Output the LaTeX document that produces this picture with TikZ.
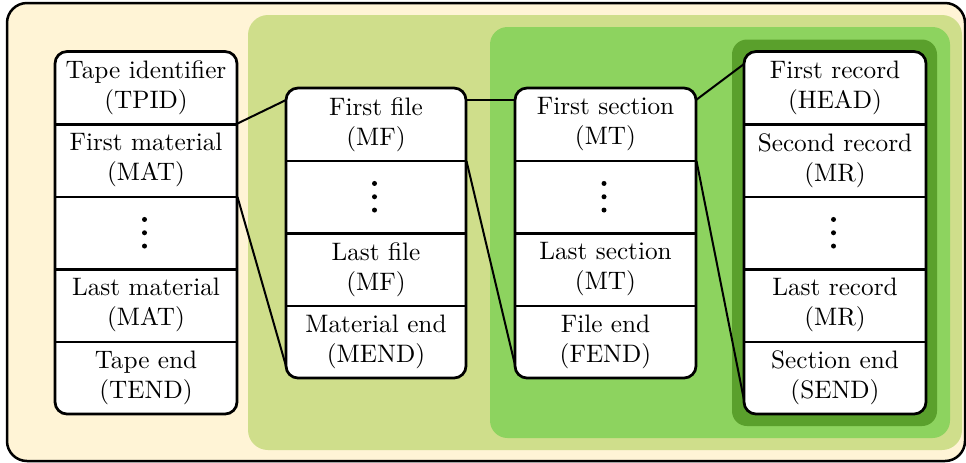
\documentclass[tikz,border=0pt]{standalone}
\usepackage{graphicx}
\usetikzlibrary{calc}
\definecolor{cream}{HTML}{FFF4D6}
\definecolor{gA}{HTML}{CFDE8B}
\definecolor{gB}{HTML}{8DD35F}
\definecolor{gC}{HTML}{5AA02C}
\begin{document}
\begin{tikzpicture}[x=0.4pt,y=-0.4pt,
  frame/.style={draw=black, line width=1pt, rounded corners=8pt},
  colbox/.style={draw=black, fill=white, line width=1.1pt, rounded corners=4.8pt},
  cell/.style={minimum height=29pt, inner sep=0pt, align=center, font=\fontsize{10.1}{12}\selectfont},
  sepline/.style={line width=1.1pt},
  link/.style={line width=0.8pt},
  dotfill/.style={fill=black}]
\useasboundingbox (0,0) rectangle (966,462);
% backgrounds
\draw[frame, fill=cream] (7,3) rectangle (965,461);
\fill[gA, rounded corners=8pt] (248,15) rectangle (962,450);
\fill[gB, rounded corners=7pt] (490,27) rectangle (950,438);
\fill[gC, rounded corners=6pt] (732,39.5) rectangle (937,426);
% column outlines
\draw[colbox] (55,51.5) rectangle (237,414);
\draw[colbox] (286,88) rectangle (466,378);
\draw[colbox] (515,88) rectangle (696,378);
\draw[colbox] (744,51.5) rectangle (926,414);
% column 1
\node[cell, minimum width=72.8pt] (tpid) at (146,87.75) {Tape identifier\\(TPID)};
\node[cell, minimum width=72.8pt] (mat1) at (146,160.25) {First material\\(MAT)};
\node[cell, minimum width=72.8pt] (dots1) at (146,232.75) {};
\node[cell, minimum width=72.8pt] (mat2) at (146,305.25) {Last material\\(MAT)};
\node[cell, minimum width=72.8pt] (tend) at (146,377.75) {Tape end\\(TEND)};
\foreach \n in {tpid,mat1,dots1,mat2} \draw[sepline] (\n.south west) -- (\n.south east);
% column 2
\node[cell, minimum width=72pt] (mf1) at (376,124.25) {First file\\(MF)};
\node[cell, minimum width=72pt] (dots2) at (376,196.75) {};
\node[cell, minimum width=72pt] (mf2) at (376,269.25) {Last file\\(MF)};
\node[cell, minimum width=72pt] (mend) at (376,341.75) {Material end\\(MEND)};
\foreach \n in {mf1,dots2,mf2} \draw[sepline] (\n.south west) -- (\n.south east);
% column 3
\node[cell, minimum width=72.4pt] (mt1) at (605.5,124.25) {First section\\(MT)};
\node[cell, minimum width=72.4pt] (dots3) at (605.5,196.75) {};
\node[cell, minimum width=72.4pt] (mt2) at (605.5,269.25) {Last section\\(MT)};
\node[cell, minimum width=72.4pt] (fend) at (605.5,341.75) {File end\\(FEND)};
\foreach \n in {mt1,dots3,mt2} \draw[sepline] (\n.south west) -- (\n.south east);
% column 4
\node[cell, minimum width=72.8pt] (head) at (835,87.75) {First record\\(HEAD)};
\node[cell, minimum width=72.8pt] (mr1) at (835,160.25) {Second record\\(MR)};
\node[cell, minimum width=72.8pt] (dots4) at (835,232.75) {};
\node[cell, minimum width=72.8pt] (mr2) at (835,305.25) {Last record\\(MR)};
\node[cell, minimum width=72.8pt] (send) at (835,377.75) {Section end\\(SEND)};
\foreach \n in {head,mr1,dots4,mr2} \draw[sepline] (\n.south west) -- (\n.south east);
% vertical ellipses
\foreach \n in {dots1,dots2,dots3,dots4}
  \foreach \dy in {-13.3,0,13.3}
    \fill[dotfill] ($(\n.center)+(-1.5,\dy)$) circle (1pt);
% connector end points
\coordinate (c2tl) at (286,100);
\coordinate (c2bl) at (286,366);
\coordinate (c2tr) at (466,100);
\coordinate (c3tl) at (515,100);
\coordinate (c3bl) at (515,365);
\coordinate (c3tr) at (696,100);
\coordinate (c4tl) at (744,64);
\coordinate (c4bl) at (744,400);
% connectors
\draw[link] (mat1.north east) -- (c2tl);
\draw[link] (mat1.south east) -- (c2bl);
\draw[link] (c2tr) -- (c3tl);
\draw[link] (mf1.south east) -- (c3bl);
\draw[link] (c3tr) -- (c4tl);
\draw[link] (mt1.south east) -- (c4bl);
\end{tikzpicture}
\end{document}
